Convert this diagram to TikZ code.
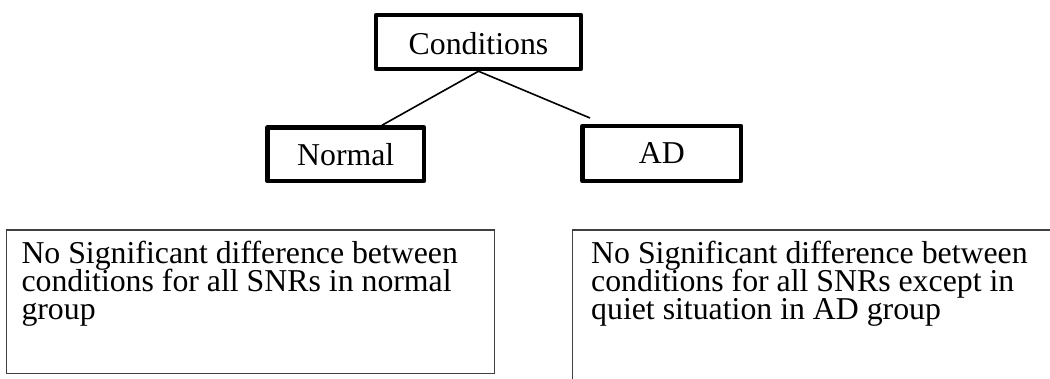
\documentclass[tikz,border=0pt]{standalone}
\usepackage{fontspec}
\setmainfont{Liberation Serif}
\usetikzlibrary{calc}
\begin{document}
\begin{tikzpicture}[x=1pt,y=-1pt,
  topbox/.style={draw=black, line width=4.5pt, line join=round, inner sep=0pt,
    font=\fontsize{31.8}{28.3}\selectfont},
  notebox/.style={draw=black!75, line width=1.3pt, inner ysep=0pt, outer sep=0pt,
    anchor=north west, font=\fontsize{31.8}{28.3}\selectfont},
  link/.style={draw=black, line width=1.6pt}]
\useasboundingbox (0,0) rectangle (1050,379);
\clip (0,0) rectangle (1050,379);

\node[topbox, minimum width=205pt, minimum height=54pt, text height=26pt, text depth=0pt]
  (cond) at (478.5,42) {Conditions};
\node[topbox, minimum width=156.5pt, minimum height=53.5pt] (normal) at (345.75,154.25) {Normal};
\node[topbox, minimum width=158.5pt, minimum height=55pt] (ad) at (661.75,153.5) {AD};

\draw[link] (cond.south) -- ($(normal.north)+(36.25,0)$);
\draw[link] (cond.south) -- ($(ad.north west)+(9.75,-5.75)$);

\node[notebox, inner xsep=14.8pt] (normnote) at (6.7,230)
  {\parbox[t][143.3pt][t]{458.2pt}{\raggedright\lineskiplimit=-50pt
   \rule{0pt}{33.3pt}No Significant difference between\\
   conditions for all SNRs in normal\\
   group}};
\node[notebox, inner xsep=18.4pt] (adnote) at (572.8,230)
  {\parbox[t][160pt][t]{463.2pt}{\raggedright\lineskiplimit=-50pt
   \rule{0pt}{33.3pt}No Significant difference between\\
   conditions for all SNRs except in\\
   quiet situation in AD group}};
\end{tikzpicture}
\end{document}
